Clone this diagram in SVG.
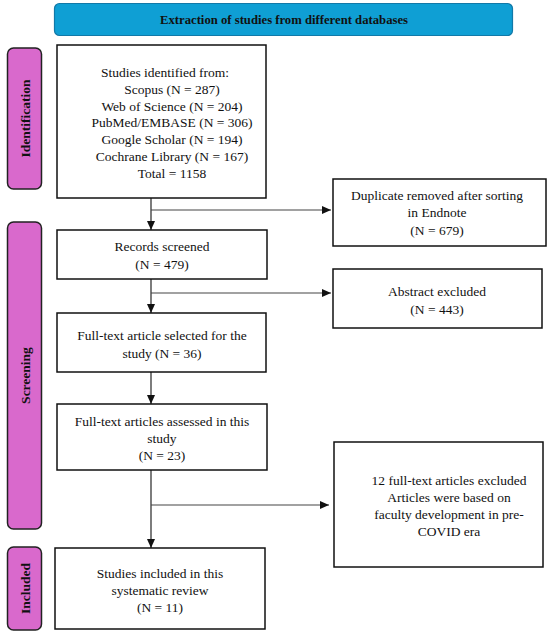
<svg xmlns="http://www.w3.org/2000/svg" width="550" height="635" viewBox="0 0 550 635">
<style>
.box{fill:#fff;stroke:#111;stroke-width:1.5}
.tab{fill:#d969cc;stroke:#222;stroke-width:1.5}
.t{font-family:"Liberation Serif",serif;font-size:13.5px;fill:#111;text-anchor:middle}
.tl{font-family:"Liberation Serif",serif;font-size:13.5px;font-weight:bold;fill:#111;text-anchor:middle}
.ln{fill:none;stroke:#111;stroke-width:1.1}
.lh{fill:none;stroke:#444;stroke-width:1.1}
</style>
<defs>
<marker id="ah" markerWidth="9" markerHeight="8" refX="9" refY="4" orient="auto" markerUnits="userSpaceOnUse">
<path d="M0,0 L9,4 L0,8 Z" fill="#111"/>
</marker>
</defs>
<rect width="550" height="635" fill="#fff"/>
<g id="banner">
<rect x="54.5" y="3.5" width="458" height="32" rx="5" fill="#0f9fd4" stroke="#1279a8" stroke-width="1.2"/>
<text x="284" y="24" class="tl" style="font-size:12.7px">Extraction of studies from different databases</text>
</g>
<g id="tab-identification">
<rect x="7.5" y="48" width="34" height="141" rx="6" class="tab"/>
<text class="tl" transform="translate(29.5,118.5) rotate(-90)">Identification</text>
</g>
<g id="tab-screening">
<rect x="7.5" y="222" width="34" height="307" rx="6" class="tab"/>
<text class="tl" transform="translate(29.5,375.5) rotate(-90)">Screening</text>
</g>
<g id="tab-included">
<rect x="7.5" y="547" width="34" height="83" rx="6" class="tab"/>
<text class="tl" transform="translate(29.5,588.5) rotate(-90)">Included</text>
</g>
<g id="identified">
<rect x="57" y="45" width="209" height="153" class="box"/>
<text class="t" x="165" y="77">Studies identified from:</text>
<text class="t" x="172" y="94">Scopus (N = 287)</text>
<text class="t" x="172" y="111">Web of Science (N = 204)</text>
<text class="t" x="172" y="127">PubMed/EMBASE (N = 306)</text>
<text class="t" x="172" y="144">Google Scholar (N = 194)</text>
<text class="t" x="172" y="161">Cochrane Library (N = 167)</text>
<text class="t" x="172" y="178">Total = 1158</text>
</g>
<g id="duplicate">
<rect x="333" y="179" width="213" height="67" class="box"/>
<text class="t" x="437" y="200">Duplicate removed after sorting</text>
<text class="t" x="437" y="217">in Endnote</text>
<text class="t" x="437" y="235">(N = 679)</text>
</g>
<g id="screened">
<rect x="57" y="230" width="210" height="49" class="box"/>
<text class="t" x="162" y="251">Records screened</text>
<text class="t" x="162" y="269">(N = 479)</text>
</g>
<g id="abstract">
<rect x="333" y="269" width="209" height="59" class="box"/>
<text class="t" x="437" y="296">Abstract excluded</text>
<text class="t" x="437" y="314">(N = 443)</text>
</g>
<g id="selected">
<rect x="57" y="313" width="209" height="59" class="box"/>
<text class="t" x="162" y="340">Full-text article selected for the</text>
<text class="t" x="162" y="358">study (N = 36)</text>
</g>
<g id="assessed">
<rect x="57" y="404" width="210" height="66" class="box"/>
<text class="t" x="162" y="426">Full-text articles assessed in this</text>
<text class="t" x="162" y="443">study</text>
<text class="t" x="162" y="460">(N = 23)</text>
</g>
<g id="excluded">
<rect x="334" y="442" width="209" height="125" class="box"/>
<text class="t" x="449" y="485">12 full-text articles excluded</text>
<text class="t" x="449" y="502">Articles were based on</text>
<text class="t" x="449" y="519">faculty development in pre-</text>
<text class="t" x="449" y="536">COVID era</text>
</g>
<g id="included">
<rect x="55" y="548" width="210" height="81" class="box"/>
<text class="t" x="160" y="578">Studies included in this</text>
<text class="t" x="160" y="595">systematic review</text>
<text class="t" x="160" y="612">(N = 11)</text>
</g>
<g id="connectors">
<line x1="151" y1="198" x2="151" y2="230" class="ln" marker-end="url(#ah)"/>
<line x1="151" y1="210" x2="331" y2="210" class="lh" marker-end="url(#ah)"/>
<line x1="151" y1="279" x2="151" y2="313" class="ln" marker-end="url(#ah)"/>
<line x1="151" y1="293" x2="331" y2="293" class="lh" marker-end="url(#ah)"/>
<line x1="151" y1="372" x2="151" y2="404" class="ln" marker-end="url(#ah)"/>
<line x1="151" y1="470" x2="151" y2="548" class="ln" marker-end="url(#ah)"/>
<line x1="151" y1="505" x2="329" y2="505" class="lh" marker-end="url(#ah)"/>
</g>
</svg>
